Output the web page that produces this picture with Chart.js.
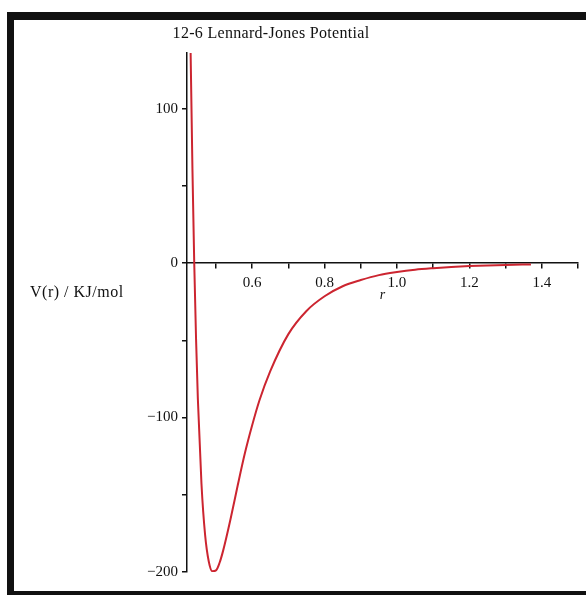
<!DOCTYPE html>
<html>
<head>
<meta charset="utf-8">
<title>12-6 Lennard-Jones Potential</title>
<script src="https://cdn.jsdelivr.net/npm/chart.js@4/dist/chart.umd.min.js"></script>
<style>
  html, body { margin: 0; padding: 0; background: #fff; }
  body { width: 586px; height: 595px; overflow: hidden; position: relative; }
  #frame {
    position: absolute; left: 7px; top: 12px; width: 579px; height: 583px;
    border-left: 7px solid #111; border-top: 8px solid #111; border-bottom: 4px solid #111;
    box-sizing: border-box; background: #fff;
  }
  #plot { display: block; }
</style>
</head>
<body>
<div id="frame"><canvas id="plot" width="572" height="571"></canvas></div>
<script>
// Separation r (nm) and potential energy V(r) (kJ/mol) along the curve
const separation = [0.428, 0.43, 0.435, 0.44, 0.445, 0.45, 0.46, 0.47, 0.48, 0.49, 0.50, 0.51, 0.52, 0.54, 0.56, 0.58, 0.60, 0.62, 0.65, 0.70, 0.75, 0.80, 0.85, 0.90, 0.95, 1.00, 1.05, 1.10, 1.15, 1.20, 1.25, 1.30, 1.37];
const potential  = [170, 136, 61, 0, -49, -88, -143, -176, -193, -199.5, -199, -194, -186, -166, -144, -123, -105, -89, -70, -46, -31, -21.5, -15, -11, -7.8, -5.8, -4.3, -3.3, -2.5, -1.9, -1.5, -1.2, -0.9];

// Axis ticks: every tick gets a mark, only the listed ones get a label
const xTicks = [0.5, 0.6, 0.7, 0.8, 0.9, 1.0, 1.1, 1.2, 1.3, 1.4, 1.5];
const xLabelled = [0.6, 0.8, 1.0, 1.2, 1.4];
const yTicks = [-200, -150, -100, -50, 0, 50, 100];
const yLabelled = [-200, -100, 0, 100];

const titleText = '12-6 Lennard-Jones Potential';
const yAxisText = 'V(r) / KJ/mol';
const xAxisText = 'r';

const serif = "'Liberation Serif', 'DejaVu Serif', serif";
const ink = '#111';

const near = (list, v) => list.some(t => Math.abs(t - v) < 1e-6);

// Title and the horizontal y-axis caption
const captions = {
  id: 'captions',
  afterDraw(chart) {
    const ctx = chart.ctx;
    ctx.save();
    ctx.fillStyle = ink;
    ctx.textBaseline = 'middle';
    ctx.font = '16px ' + serif;
    ctx.letterSpacing = '0.3px';
    ctx.textAlign = 'center';
    ctx.fillText(titleText, 257, 14);
    ctx.letterSpacing = '0.5px';
    ctx.textAlign = 'left';
    ctx.fillText(yAxisText, 16, 273);
    ctx.restore();
  }
};

new Chart(document.getElementById('plot'), {
  type: 'line',
  data: {
    datasets: [{
      data: separation.map((r, i) => ({ x: r, y: potential[i] })),
      borderColor: '#cc2530',
      borderWidth: 2,
      pointRadius: 0,
      fill: false,
      cubicInterpolationMode: 'monotone'
    }]
  },
  options: {
    responsive: false,
    animation: false,
    events: [],
    layout: { padding: { left: 0, right: 8, top: 33, bottom: 19 } },
    plugins: { legend: { display: false }, title: { display: false }, tooltip: { enabled: false } },
    scales: {
      x: {
        type: 'linear',
        position: { y: 0 },
        min: 0.42,
        max: 1.5,
        afterBuildTicks(scale) { scale.ticks = xTicks.map(v => ({ value: v })); },
        ticks: {
          autoSkip: false,
          maxRotation: 0,
          padding: 6,
          color: ink,
          font: { family: serif, size: 15 },
          callback: v => near(xLabelled, v) ? v.toFixed(1) : ''
        },
        grid: { drawOnChartArea: false, drawTicks: true, tickLength: 5, color: ink, lineWidth: 1.5 },
        border: { display: true, color: ink, width: 1.5 },
        title: {
          display: true,
          text: xAxisText,
          color: ink,
          font: { family: serif, size: 14, style: 'italic' },
          padding: { top: -11, bottom: 0 }
        }
      },
      y: {
        type: 'linear',
        position: 'left',
        min: -200,
        max: 136,
        afterFit(scale) { scale.width = 173; },
        afterBuildTicks(scale) { scale.ticks = yTicks.map(v => ({ value: v })); },
        ticks: {
          autoSkip: false,
          padding: 4,
          color: ink,
          font: { family: serif, size: 15 },
          callback: v => near(yLabelled, v) ? (v < 0 ? '\u2212' + Math.abs(v) : String(v)) : ''
        },
        grid: { drawOnChartArea: false, drawTicks: true, tickLength: 5, color: ink, lineWidth: 1.5 },
        border: { display: true, color: ink, width: 1.5 }
      }
    }
  },
  plugins: [captions]
});
</script>
</body>
</html>
